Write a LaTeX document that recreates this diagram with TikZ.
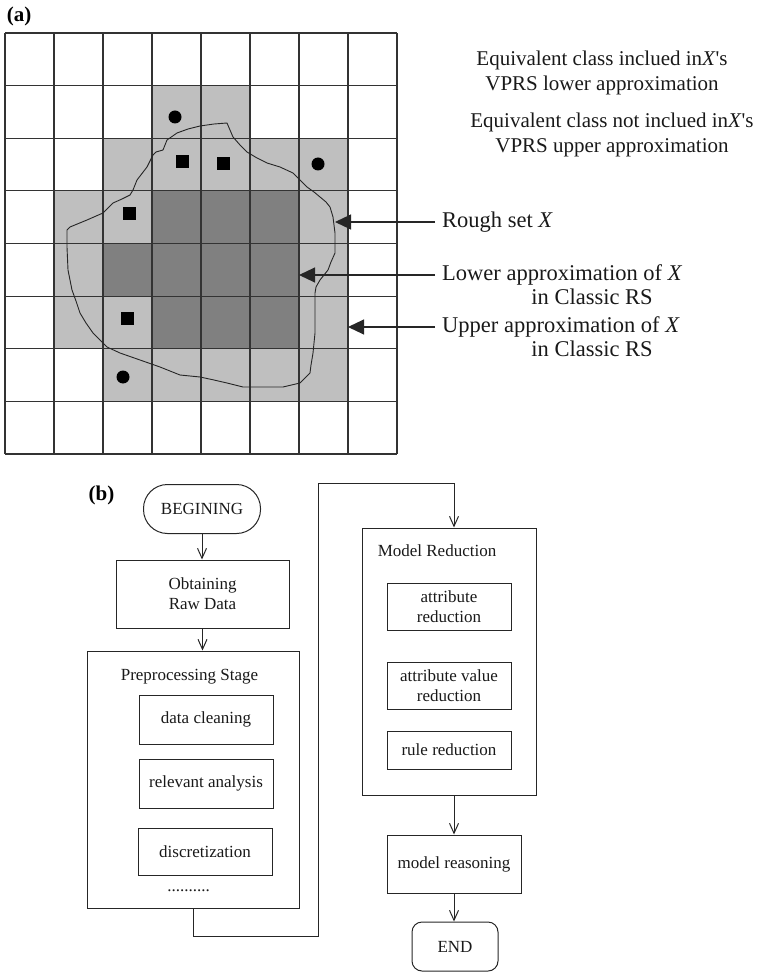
\documentclass[tikz,border=0pt]{standalone}
\usepackage{fontspec}
\setmainfont{Liberation Serif}
% same face without TeX quote mapping, for a straight apostrophe
\newfontfamily\rawserif{Liberation Serif}
\usetikzlibrary{arrows.meta}
\newcommand{\sq}{{\rawserif'}}
\begin{document}
\begin{tikzpicture}[x=1pt,y=-1pt,
  cellline/.style={line width=1.2pt, draw=black!80},
  lite/.style={fill=black!25},
  dark/.style={fill=black!50},
  blob/.style={fill=black},
  outline/.style={line width=0.9pt, draw=black!85, line join=round},
  pointer/.style={line width=1.1pt, draw=black!85, -{Triangle[length=16pt,width=15pt]}},
  lbl/.style={font=\fontsize{22.5}{25}\selectfont, inner xsep=7pt, inner ysep=0pt, text=black!90},
  lblcont/.style={font=\fontsize{22.5}{25}\selectfont, inner sep=0pt, text=black!90},
  legend/.style={font=\fontsize{21}{25}\selectfont, align=center, inner sep=0pt, text=black!90},
  tag/.style={font=\fontsize{21}{24}\selectfont\bfseries, inner sep=0pt},
  box/.style={draw=black!85, line width=1pt, font=\fontsize{17}{20}\selectfont, align=center, inner sep=0pt, text=black!90},
  caption/.style={font=\fontsize{17}{20}\selectfont, inner sep=0pt, text=black!90},
  flow/.style={draw=black!85, line width=1pt, -{Straight Barb[length=10pt,width=9pt]}},
]
\useasboundingbox (0,0) rectangle (764,973);

% ---------- panel (a): rough set on an 8x8 grid ----------
\node[tag] (taga) at (19,16) {(a)};

% boundary (upper approximation) cells
\fill[lite] (152,85.625) rectangle (250,138.25);
\fill[lite] (103,138.25) rectangle (348,190.875);
\fill[lite] (54,190.875) rectangle (348,348.75);
\fill[lite] (103,348.75) rectangle (348,401.375);
% lower approximation cells
\fill[dark] (152,190.875) rectangle (299,243.5);
\fill[dark] (103,243.5) rectangle (299,296.125);
\fill[dark] (152,296.125) rectangle (299,348.75);

% grid
\foreach \i in {0,...,8} \draw[cellline] ({5+49*\i},33) -- ({5+49*\i},454);
\foreach \j in {0,...,8} \draw[cellline] (5,{33+52.625*\j}) -- (397,{33+52.625*\j});

% the rough set X
\draw[outline] plot coordinates {
 (200,126) (214,124) (227,123) (230,130) (233,137) (240,145) (247,152) (257,158)
 (267,163) (280,167) (293,173) (300,180) (307,187) (314,192) (320,197) (326,202)
 (330,207) (333,217) (335,233) (335,253) (331,262) (328,270) (320,280) (316,287)
 (315,293) (315,313) (315,333) (313,353) (311,365) (310,373) (300,383) (283,387)
 (263,387) (243,387) (227,383) (214,380) (200,377) (180,375) (170,371) (160,367)
 (140,360) (120,353) (107,347) (93,333) (86,323) (80,313) (76,301) (72,290)
 (68,270) (67,247) (67,230) (70,227) (87,220) (103,213) (113,203) (122,199)
 (130,195) (133,190) (137,180) (147,167) (153,155) (156,152) (163,150) (167,140)
 (177,133) (188,129) (200,126)};

% members of the VPRS approximations
\foreach \p in {(182,162),(223,164),(129,214),(127,318)}
  \fill[blob] \p ++(-6.5,-6.5) rectangle ++(13,13);
\foreach \p in {(175,117),(318,164),(123,377)}
  \fill[blob] \p circle (6.5);

% legend text
\node[legend] (leg1) at (602,72.5)
  {Equivalent class inclued in\textit{X}\sq s\\VPRS lower approximation};
\node[legend] (leg2) at (612,134.5)
  {Equivalent class not inclued in\textit{X}\sq s\\VPRS upper approximation};

% pointers
\coordinate (tipX) at (335,222);
\coordinate (tipLow) at (299,275);
\coordinate (tipUp) at (348,327);
\node[lbl, anchor=west] (rough) at (435,222) {Rough set \textit{X}};
\node[lbl, anchor=west] (lower) at (435,275) {Lower approximation of \textit{X}};
\node[lblcont] (lower2) at (592,297) {in Classic RS};
\node[lbl, anchor=west] (upper) at (435,327) {Upper approximation of \textit{X}};
\node[lblcont] (upper2) at (592,349) {in Classic RS};
\draw[pointer] (rough.west) -- (tipX);
\draw[pointer] (lower.west) -- (tipLow);
\draw[pointer] (upper.west) -- (tipUp);

% ---------- panel (b): processing flow ----------
\node[tag] (tagb) at (101.5,495) {(b)};

\node[box, rounded corners=24pt, minimum width=117pt, minimum height=49pt] (begin) at (202,509) {BEGINING};
\node[box, minimum width=173pt, minimum height=68pt] (raw) at (202.5,594) {Obtaining\\Raw Data};

\node[box, minimum width=212pt, minimum height=257pt] (prep) at (193,779.5) {};
\node[caption] (preptitle) at (189.5,677) {Preprocessing Stage};
\node[box, minimum width=134pt, minimum height=49pt] (clean) at (206,719.5) {data cleaning};
\node[box, minimum width=134pt, minimum height=49pt] (relev) at (206,783.5) {relevant analysis};
\node[box, minimum width=134pt, minimum height=47pt] (disc) at (205,851.5) {discretization};
\node[caption] (more) at (188.5,891) {..........};

\node[box, minimum width=174pt, minimum height=267pt] (model) at (449,661.5) {};
\node[caption] (modeltitle) at (437,551) {Model Reduction};
\node[box, minimum width=124pt, minimum height=47pt] (attr) at (449,606.5) {attribute\\reduction};
\node[box, minimum width=124pt, minimum height=47pt] (attrval) at (449,685.5) {attribute value\\reduction};
\node[box, minimum width=124pt, minimum height=38pt] (rule) at (449,750) {rule reduction};

\node[box, minimum width=134pt, minimum height=58pt] (reason) at (454,864) {model reasoning};
\node[box, rounded corners=10pt, minimum width=86pt, minimum height=49pt] (end) at (455,946.5) {END};

\draw[flow] (begin.south) -- (begin.south |- raw.north);
\draw[flow] (raw.south) -- (raw.south |- prep.north);
\draw[flow] (prep.south) -- ++(0,28) -| (318,483) -| (reason.north |- model.north);
\draw[flow] (reason.north |- model.south) -- (reason.north);
\draw[flow] (reason.south) -- (reason.south |- end.north);

\end{tikzpicture}
\end{document}
